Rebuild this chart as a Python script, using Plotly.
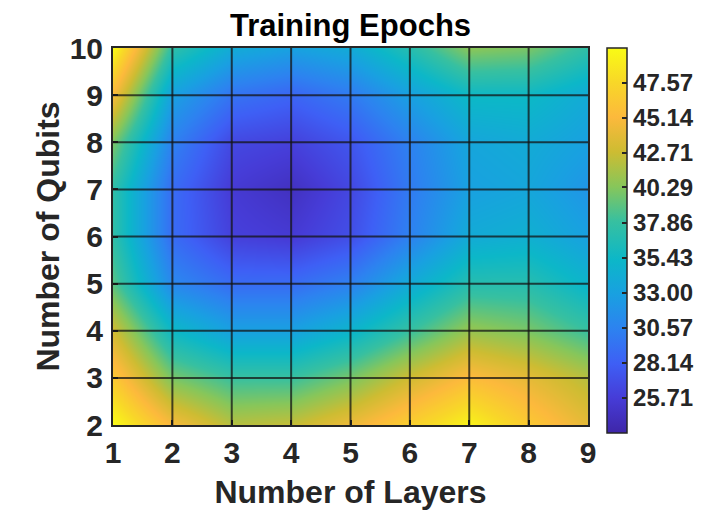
import plotly.graph_objects as go

layers = [1, 2, 3, 4, 5, 6, 7, 8, 9]
qubits = [2, 3, 4, 5, 6, 7, 8, 9, 10]

# epochs[row = qubits index][col = layers index]
epochs = [
    [50.0, 45.0, 42.0, 42.5, 44.5, 47.0, 49.5, 46.5, 44.0],  # q=2
    [46.5, 40.0, 38.0, 38.0, 40.0, 43.0, 45.5, 44.0, 42.0],  # q=3
    [43.0, 35.5, 33.0, 33.0, 35.0, 38.0, 41.0, 40.0, 38.0],  # q=4
    [39.0, 31.0, 29.0, 29.0, 30.5, 34.0, 37.0, 37.0, 35.0],  # q=5
    [37.5, 29.0, 26.0, 25.5, 27.0, 30.5, 34.0, 34.5, 33.0],  # q=6
    [37.5, 29.0, 25.5, 24.5, 26.5, 30.0, 33.0, 33.5, 32.0],  # q=7
    [40.0, 30.5, 26.5, 26.0, 27.5, 30.5, 33.5, 34.0, 33.0],  # q=8
    [45.0, 33.0, 29.5, 28.5, 30.0, 33.0, 35.5, 35.5, 34.0],  # q=9
    [50.0, 37.5, 34.0, 33.0, 34.0, 37.0, 40.5, 40.0, 37.5],  # q=10
]

cbar_ticks = [25.71, 28.14, 30.57, 33.00, 35.43, 37.86, 40.29, 42.71, 45.14, 47.57]
cmin, cmax = 23.28, 50.0

parula = [
    [0.00, "rgb(62,38,168)"],
    [0.09, "rgb(70,60,215)"],
    [0.18, "rgb(62,95,245)"],
    [0.27, "rgb(45,130,240)"],
    [0.36, "rgb(25,160,225)"],
    [0.45, "rgb(12,183,200)"],
    [0.55, "rgb(55,192,160)"],
    [0.64, "rgb(135,198,90)"],
    [0.73, "rgb(205,188,50)"],
    [0.82, "rgb(252,185,60)"],
    [0.91, "rgb(248,215,40)"],
    [1.00, "rgb(249,251,21)"],
]

txt = "#262626"
font_fam = "Liberation Sans, Arial, Helvetica, sans-serif"

fig = go.Figure()
fig.add_trace(go.Heatmap(
    x=layers, y=qubits, z=epochs,
    zsmooth="best", colorscale=parula, zmin=cmin, zmax=cmax,
    colorbar=dict(
        x=1.041, xanchor="left", xref="paper", xpad=0, ypad=0,
        y=0.4905, yanchor="middle", len=1.021, lenmode="fraction",
        thickness=20, thicknessmode="pixels",
        outlinecolor=txt, outlinewidth=1.5,
        tickvals=cbar_ticks, ticktext=[f"{v:.2f}" for v in cbar_ticks],
        ticks="inside", ticklen=5, tickcolor=txt, tickwidth=1.5,
        tickfont=dict(family=font_fam, size=24, color=txt, weight="bold"),
    ),
))

# grid lines drawn above the surface
shapes = []
for lx in layers[1:-1]:
    shapes.append(dict(type="line", xref="x", yref="y", x0=lx, x1=lx, y0=qubits[0], y1=qubits[-1],
                       line=dict(color="rgba(20,20,20,0.75)", width=2), layer="above"))
for qy in qubits[1:-1]:
    shapes.append(dict(type="line", xref="x", yref="y", x0=layers[0], x1=layers[-1], y0=qy, y1=qy,
                       line=dict(color="rgba(20,20,20,0.75)", width=2), layer="above"))
fig.update_layout(shapes=shapes)

axis_common = dict(
    showgrid=False, zeroline=False, showline=True, mirror=True,
    linecolor=txt, linewidth=2, ticks="inside", ticklen=5, tickcolor=txt, tickwidth=2,
    tickfont=dict(family=font_fam, size=30, color=txt, weight="bold"),
    automargin=False,
)
fig.update_xaxes(range=[1, 9], tickvals=layers, ticklabelstandoff=0, **axis_common,
                 title=dict(text="Number of Layers", standoff=13,
                            font=dict(family=font_fam, size=32, color=txt, weight="bold")))
fig.update_yaxes(range=[2, 10], tickvals=qubits, ticklabelstandoff=2, **axis_common,
                 title=dict(text="Number of Qubits", standoff=0,
                            font=dict(family=font_fam, size=32, color=txt, weight="bold")))

# page body adds an 8px offset, so the figure is sized to fit the 704x510 window
fig.update_layout(
    width=696, height=502,
    margin=dict(l=105, r=116, t=40, b=85, autoexpand=False),
    paper_bgcolor="white", plot_bgcolor="white",
    title=dict(text="Training Epochs", x=0.5, xref="paper", xanchor="center",
               y=0.965, yref="container", yanchor="middle",
               font=dict(family=font_fam, size=31, color="black", weight="bold")),
)

fig.write_html("out.html")
